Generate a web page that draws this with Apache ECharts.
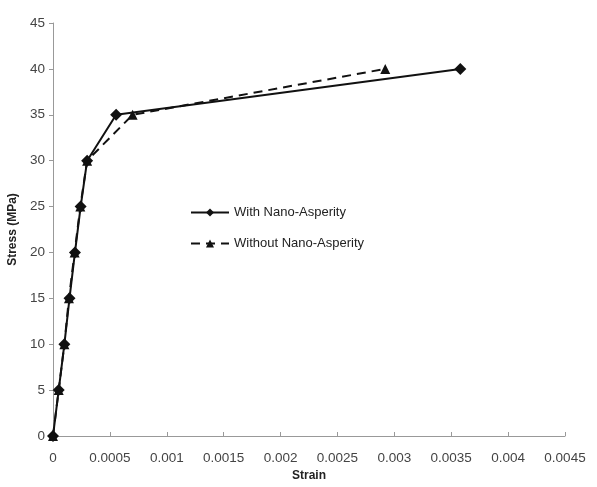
<!DOCTYPE html>
<html>
<head>
    <meta charset="utf-8"/>
    <script src="https://cdn.jsdelivr.net/npm/echarts@6/dist/echarts.min.js"></script>
    <style>
        body { margin: 0; background: #fff; }
    </style>
</head>
<body>
<div id="main" style="width: 597px;height:487px;"></div>
<script type="text/javascript">
    // data
    var strainWith = [0, 0.00005, 0.0001, 0.000145, 0.000193, 0.000243, 0.0003, 0.000555, 0.00358];
    var stressWith = [0, 5, 10, 15, 20, 25, 30, 35, 40];
    var strainWithout = [0, 0.00005, 0.0001, 0.00014, 0.00019, 0.00024, 0.0003, 0.0007, 0.00292];
    var stressWithout = [0, 5, 10, 15, 20, 25, 30, 35, 40];

    function pairs(xs, ys) {
        var out = [];
        for (var i = 0; i < xs.length; i++) out.push([xs[i], ys[i]]);
        return out;
    }

    var myChart = echarts.init(document.getElementById('main'));
    var axisText = { color: '#444', fontSize: 13.5, fontFamily: 'Liberation Sans' };

    var option = {
        animation: false,
        backgroundColor: '#fff',
        grid: { left: 53, right: 32, top: 23, bottom: 51, outerBoundsMode: 'none' },
        legend: {
            orient: 'vertical',
            left: 185,
            top: 201,
            itemWidth: 38,
            itemHeight: 10,
            itemGap: 18,
            textStyle: { color: '#222', fontSize: 13, fontFamily: 'Liberation Sans' },
            data: ['With Nano-Asperity', 'Without Nano-Asperity']
        },
        xAxis: {
            type: 'value',
            min: 0, max: 0.0045, interval: 0.0005,
            name: 'Strain',
            nameLocation: 'middle',
            nameGap: 30,
            nameTextStyle: { color: '#222', fontSize: 12, fontWeight: 'bold', fontFamily: 'Liberation Sans' },
            axisLine: { lineStyle: { color: '#999' } },
            axisTick: { show: true, inside: true, length: 4, lineStyle: { color: '#999' } },
            axisLabel: Object.assign({ margin: 15, formatter: function (v) { return String(+v.toFixed(4)); } }, axisText),
            splitLine: { show: false }
        },
        yAxis: {
            type: 'value',
            min: 0, max: 45, interval: 5,
            name: 'Stress (MPa)',
            nameLocation: 'middle',
            nameGap: 34,
            nameRotate: 90,
            nameTextStyle: { color: '#222', fontSize: 12, fontWeight: 'bold', fontFamily: 'Liberation Sans' },
            axisLine: { show: true, lineStyle: { color: '#999' } },
            axisTick: { show: true, length: 4, lineStyle: { color: '#999' } },
            axisLabel: Object.assign({ margin: 8 }, axisText),
            splitLine: { show: false }
        },
        series: [{
            name: 'With Nano-Asperity',
            type: 'line',
            data: pairs(strainWith, stressWith),
            symbol: 'diamond',
            symbolSize: 12,
            itemStyle: { color: '#111' },
            lineStyle: { color: '#111', width: 2 }
        }, {
            name: 'Without Nano-Asperity',
            type: 'line',
            data: pairs(strainWithout, stressWithout),
            symbol: 'triangle',
            symbolSize: 10,
            itemStyle: { color: '#111' },
            lineStyle: { color: '#111', width: 2, type: [9, 6] }
        }]
    };

    myChart.setOption(option);
</script>
</body>
</html>
